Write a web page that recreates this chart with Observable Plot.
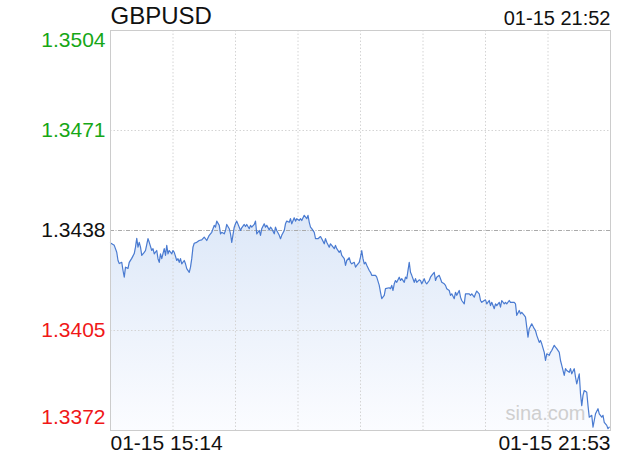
<!DOCTYPE html>
<html>
<head>
<meta charset="utf-8">
<script src="https://cdn.jsdelivr.net/npm/d3@7"></script>
<script src="https://cdn.jsdelivr.net/npm/@observablehq/plot@0.6"></script>
<style>
  html, body { margin: 0; padding: 0; background: #fff; }
  #chart svg { display: block; }
</style>
</head>
<body>
<div id="chart"></div>
<script>
// ---- Data ----
const symbol = "GBPUSD";
const stampLabel = "01-15 21:52";
const xTickLabels = ["01-15 15:14", "01-15 21:53"];
const yTicks = [1.3372, 1.3405, 1.3438, 1.3471, 1.3504];
const prevClose = 1.3438;
const watermark = "sina.com";

// minutes since 15:14
const minutes = [
  0,3,5,6,7,9,10,11,12,14,15,17,19,20,21,22,23,24,25,27,28,30,31,33,34,35,37,38,39,40,41,43,44,45,46,47,49,50,51,53,54,55,56,57,59,60,61,63,64,65,66,67,69,71,73,75,77,79,
  81,83,84,85,87,88,89,91,92,93,95,96,97,99,100,101,103,104,105,107,108,109,111,112,113,115,116,117,119,120,121,123,124,125,127,128,129,131,132,133,135,136,137,139,140,141,143,144,145,147,148,149,151,152,153,155,157,158,159,160,
  161,163,164,166,168,169,171,172,173,175,176,177,179,180,181,183,184,185,187,188,189,191,192,193,195,196,197,199,200,201,202,203,204,205,207,208,209,212,213,215,216,217,219,220,223,224,225,226,227,228,229,231,232,233,235,236,237,
  239,240,241,243,244,245,247,248,249,251,252,253,255,256,257,259,260,261,263,264,265,267,268,269,271,272,273,275,276,277,279,280,281,283,284,287,288,289,291,292,293,295,296,297,299,300,301,303,304,305,307,308,309,311,312,313,315,316,317,319,
  320,323,324,325,327,328,329,331,332,333,334,335,337,339,340,341,343,344,345,347,348,349,351,352,353,355,356,357,359,360,361,363,364,365,367,368,369,371,372,373,375,376,377,378,379,381,382,383,385,386,387,388,390,391,393,394,395,397,398,399
];
const prices = [
  1.34339,1.34331,1.34308,1.34281,1.34271,1.34275,1.34248,1.34226,1.34259,1.34255,1.34275,1.34288,1.34304,1.34325,1.34354,1.34325,1.34341,1.34325,1.34298,1.34308,1.34314,1.34353,1.34341,1.34314,1.34320,1.34303,1.34314,1.34287,1.34275,1.34303,1.34287,1.34320,1.34298,1.34331,1.34303,1.34314,1.34303,1.34314,1.34308,1.34281,1.34287,1.34275,1.34287,1.34270,1.34281,1.34270,1.34254,1.34242,1.34259,1.34287,1.34325,1.34338,1.34341,1.34347,1.34349,1.34358,1.34347,1.34364,
  1.34374,1.34397,1.34391,1.34411,1.34397,1.34369,1.34374,1.34369,1.34380,1.34400,1.34386,1.34369,1.34341,1.34391,1.34402,1.34411,1.34391,1.34380,1.34389,1.34400,1.34393,1.34400,1.34386,1.34397,1.34391,1.34400,1.34411,1.34369,1.34380,1.34364,1.34386,1.34402,1.34391,1.34397,1.34382,1.34391,1.34386,1.34369,1.34391,1.34380,1.34364,1.34353,1.34364,1.34380,1.34402,1.34411,1.34407,1.34419,1.34402,1.34422,1.34411,1.34419,1.34413,1.34419,1.34413,1.34430,1.34419,1.34430,1.34407,1.34391,
  1.34386,1.34374,1.34353,1.34353,1.34360,1.34353,1.34336,1.34353,1.34341,1.34325,1.34336,1.34331,1.34320,1.34331,1.34320,1.34308,1.34314,1.34298,1.34287,1.34265,1.34281,1.34290,1.34275,1.34270,1.34275,1.34259,1.34265,1.34275,1.34292,1.34314,1.34287,1.34270,1.34275,1.34265,1.34248,1.34242,1.34232,1.34232,1.34226,1.34199,1.34176,1.34155,1.34166,1.34188,1.34191,1.34188,1.34199,1.34182,1.34204,1.34215,1.34209,1.34226,1.34215,1.34221,1.34209,1.34226,1.34221,
  1.34275,1.34242,1.34232,1.34209,1.34221,1.34209,1.34217,1.34215,1.34204,1.34221,1.34209,1.34204,1.34215,1.34226,1.34232,1.34242,1.34215,1.34226,1.34232,1.34221,1.34209,1.34204,1.34199,1.34188,1.34182,1.34166,1.34171,1.34155,1.34176,1.34166,1.34182,1.34160,1.34149,1.34138,1.34171,1.34171,1.34166,1.34171,1.34160,1.34171,1.34180,1.34171,1.34149,1.34143,1.34149,1.34151,1.34138,1.34149,1.34132,1.34143,1.34122,1.34138,1.34132,1.34143,1.34127,1.34149,1.34138,1.34143,1.34138,1.34149,
  1.34143,1.34143,1.34138,1.34100,1.34116,1.34105,1.34110,1.34100,1.34094,1.34061,1.34028,1.34056,1.34072,1.34056,1.34050,1.34034,1.34011,1.34017,1.34006,1.33978,1.33951,1.33973,1.33968,1.33978,1.33984,1.34001,1.33995,1.33990,1.33978,1.33951,1.33935,1.33902,1.33924,1.33918,1.33912,1.33924,1.33907,1.33924,1.33896,1.33874,1.33907,1.33841,1.33802,1.33836,1.33852,1.33846,1.33802,1.33764,1.33770,1.33731,1.33753,1.33775,1.33792,1.33775,1.33764,1.33770,1.33747,1.33737,1.33726,1.33731
];

const data = minutes.map((m, i) => ({m, p: prices[i]}));
const yMin = d3.min(yTicks), yMax = d3.max(yTicks);
const xEnd = 400;
const FONT = "Arial, 'Liberation Sans', Helvetica, sans-serif";
const colorOf = v => v > prevClose ? "#16a716" : v < prevClose ? "#f01818" : "#111111";

const gradientDefs = () => {
  const ns = "http://www.w3.org/2000/svg";
  const defs = document.createElementNS(ns, "defs");
  const lg = document.createElementNS(ns, "linearGradient");
  lg.setAttribute("id", "areaGrad");
  lg.setAttribute("x1", "0"); lg.setAttribute("y1", "0");
  lg.setAttribute("x2", "0"); lg.setAttribute("y2", "1");
  [["0%", "#dde8f8"], ["100%", "#fbfcff"]].forEach(([o, c]) => {
    const s = document.createElementNS(ns, "stop");
    s.setAttribute("offset", o); s.setAttribute("stop-color", c);
    lg.appendChild(s);
  });
  defs.appendChild(lg);
  return defs;
};

const midTicks = yTicks.filter(v => v !== yMin && v !== yMax);

const chart = Plot.plot({
  width: 620,
  height: 460,
  marginTop: 30,
  marginBottom: 30,
  marginLeft: 110,
  marginRight: 10,
  style: {fontFamily: FONT, background: "#fff"},
  x: {domain: [0, xEnd], axis: null},
  y: {domain: [yMin, yMax], axis: null},
  color: {type: "identity"},
  marks: [
    gradientDefs,
    Plot.areaY(data, {x: "m", y1: yMin, y2: "p", fill: "url(#areaGrad)", curve: "linear"}),
    Plot.ruleX(d3.range(50, xEnd, 50), {stroke: "#d4d4d4", strokeDasharray: "1.5,2"}),
    Plot.ruleY(midTicks.filter(v => v !== prevClose), {stroke: "#d4d4d4", strokeDasharray: "1.5,2"}),
    Plot.ruleY([prevClose], {stroke: "#aaaaaa", strokeDasharray: "4,1.5,1,1.5"}),
    Plot.text([watermark], {frameAnchor: "bottom-right", lineAnchor: "middle", dx: -25, dy: -17, fill: "#cfcfcf", fontSize: 20, textAnchor: "end", fontFamily: FONT}),
    Plot.line(data, {x: "m", y: "p", stroke: "#4a7bd1", strokeWidth: 1.2}),
    Plot.frame({stroke: "#cccccc"}),
    // y tick labels
    Plot.text(midTicks, {x: 0, y: d => d, text: d => d.toFixed(4), fill: d => colorOf(d), textAnchor: "end", lineAnchor: "middle", dx: -5, fontSize: 21, fontFamily: FONT}),
    Plot.text([yMax], {x: 0, y: d => d, text: d => d.toFixed(4), fill: d => colorOf(d), textAnchor: "end", lineAnchor: "middle", dx: -5, dy: 10, fontSize: 21, fontFamily: FONT}),
    Plot.text([yMin], {x: 0, y: d => d, text: d => d.toFixed(4), fill: d => colorOf(d), textAnchor: "end", lineAnchor: "middle", dx: -5, dy: -13, fontSize: 21, fontFamily: FONT}),
    // x tick labels
    Plot.text([xTickLabels[0]], {frameAnchor: "bottom-left", lineAnchor: "middle", textAnchor: "start", dy: 13, fill: "#111", fontSize: 21, fontFamily: FONT}),
    Plot.text([xTickLabels[1]], {frameAnchor: "bottom-right", lineAnchor: "middle", textAnchor: "end", dy: 13, fill: "#111", fontSize: 21, fontFamily: FONT}),
    // title & timestamp
    Plot.text([symbol], {frameAnchor: "top-left", lineAnchor: "middle", textAnchor: "start", dy: -14, fill: "#111", fontSize: 24, fontFamily: FONT}),
    Plot.text([stampLabel], {frameAnchor: "top-right", lineAnchor: "middle", textAnchor: "end", dy: -12, fill: "#111", fontSize: 20, fontFamily: FONT})
  ]
});
document.getElementById("chart").appendChild(chart);
</script>
</body>
</html>
